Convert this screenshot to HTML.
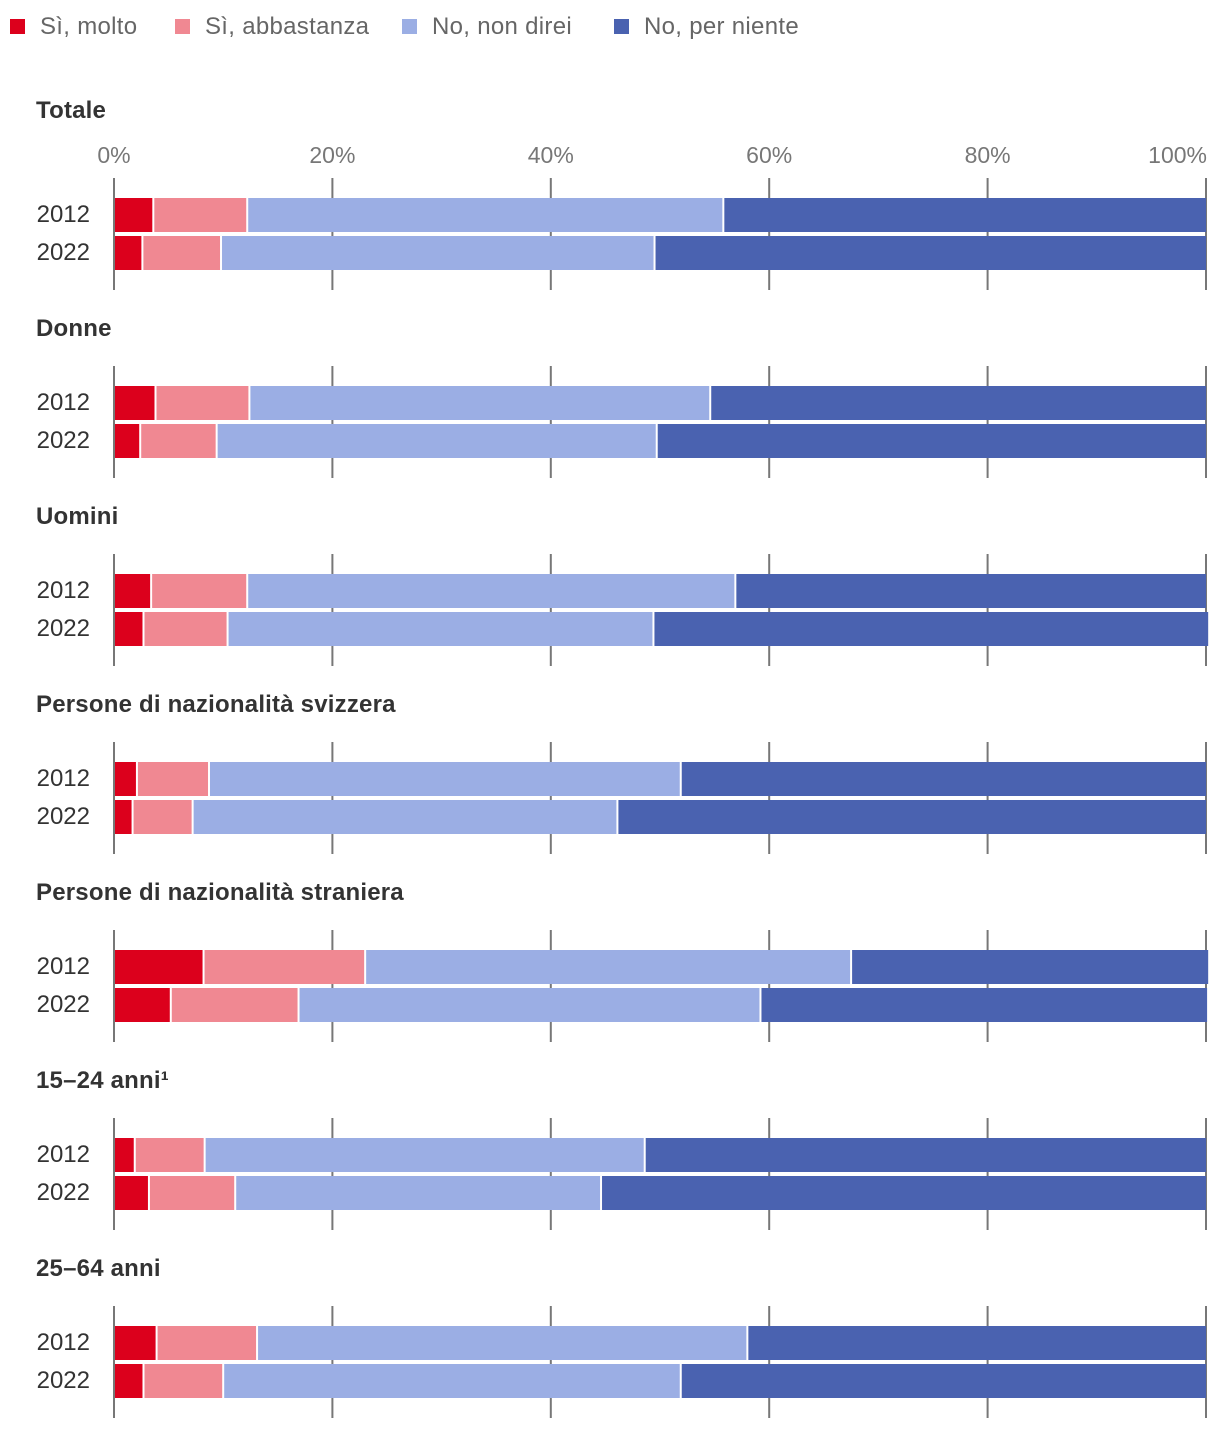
<!DOCTYPE html>
<html><head><meta charset="utf-8"><style>
body{margin:0;background:#fff;font-family:"Liberation Sans",sans-serif;}
svg text{font-family:"Liberation Sans",sans-serif;}
</style></head><body>
<svg id="chart" width="1220" height="1430" xmlns="http://www.w3.org/2000/svg">
<g id="legend"></g>
<g id="grid"></g>
<g id="bars"></g>
<g id="labels"></g>
</svg>
<script>
const groups = ["Totale","Donne","Uomini","Persone di nazionalità svizzera","Persone di nazionalità straniera","15–24 anni¹","25–64 anni"];
const years = ["2012","2022"];
const seriesNames = ["Sì, molto","Sì, abbastanza","No, non direi","No, per niente"];
const molto2012 = [3.6,3.8,3.4,2.1,8.2,1.9,3.9];
const abb2012 = [8.6,8.6,8.8,6.6,14.8,6.4,9.2];
const nondirei2012 = [43.6,42.2,44.7,43.2,44.5,40.3,44.9];
const niente2012 = [44.2,45.4,43.1,48.1,32.7,51.4,42.0];
const molto2022 = [2.6,2.4,2.7,1.7,5.2,3.2,2.7];
const abb2022 = [7.2,7.0,7.7,5.5,11.7,7.9,7.3];
const nondirei2022 = [39.7,40.3,39.0,38.9,42.3,33.5,41.9];
const niente2022 = [50.5,50.3,50.8,53.9,40.9,55.4,48.1];
const ticks = [0,20,40,60,80,100];
const colors = ["#dc001c","#f08892","#9baee4","#4a62b0"];
const NS="http://www.w3.org/2000/svg";
const x = v => 114 + v*10.92;
function mk(tag, attrs, parent, txt){const e=document.createElementNS(NS,tag);for(const k in attrs)e.setAttribute(k,attrs[k]);if(txt!==undefined)e.textContent=txt;parent.appendChild(e);return e;}
const L=document.getElementById('legend'),G=document.getElementById('grid'),B=document.getElementById('bars'),T=document.getElementById('labels');
const legX=[10,175,402,614];
seriesNames.forEach((n,i)=>{
  const r=mk('rect',{x:legX[i],y:19,width:15,height:15,fill:colors[i]},L);
  
  
  const t=mk('text',{x:legX[i]+30,y:34,'font-size':24,fill:'#666','letter-spacing':0.3},L,n);
  
  
});
const data2012=[molto2012,abb2012,nondirei2012,niente2012];
const data2022=[molto2022,abb2022,nondirei2022,niente2022];
groups.forEach((g,gi)=>{
  const top=198+188*gi;
  const ty = gi===0 ? 118 : 148+188*gi;
  const t=mk('text',{x:36,y:ty,'font-size':24,'font-weight':'bold',fill:'#333','letter-spacing':0.2},T,g);
  
  
  ticks.forEach(v=>{
    const l=mk('line',{x1:x(v),x2:x(v),y1:top-20,y2:top+92,stroke:'#777','stroke-width':2},G);
    
    
    if(gi===0){
      const tl=mk('text',{x:x(v),y:163,'font-size':23,fill:'#777','text-anchor':v===100?'end':'middle'},T,v+'%');
      if(v===100) tl.setAttribute('x',x(v)+1);
      
      
    }
  });
  [data2012,data2022].forEach((ds,yi)=>{
    const y=top+yi*38;
    const yl=mk('text',{x:90,y:y+24,'font-size':24,fill:'#333','text-anchor':'end'},T,years[yi]);
    
    
    let cum=0;
    ds.forEach((s,si)=>{
      const v=s[gi];
      const x0=x(cum), x1=x(cum+v);
      const r=mk('rect',{x:x0+1,y:y,width:Math.max(0,x1-x0-(si<3?2:1)),height:34,fill:colors[si]},B);
      
      
      cum+=v;
    });
  });
});
</script>
</body></html>
